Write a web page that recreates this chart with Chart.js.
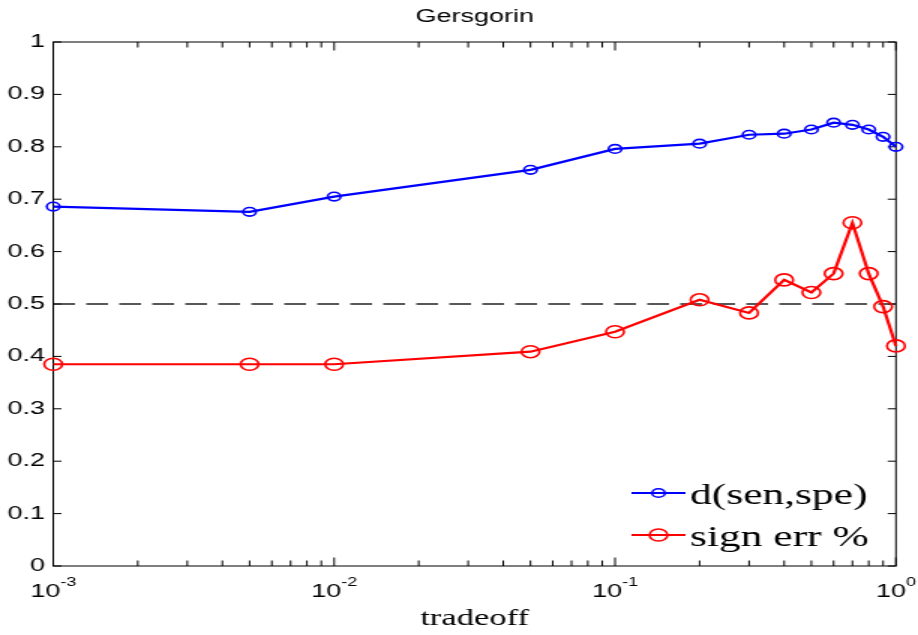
<!DOCTYPE html>
<html lang="en">
<head>
    <meta charset="UTF-8">
    <title>Gersgorin</title>
    <script src="https://cdn.jsdelivr.net/npm/chart.js"></script>
    <style>
        body {
            margin: 0;
            background-color: #fff;
        }
        /* the original figure is stretched sideways, so the canvas is drawn narrow and widened */
        #gersChart {
            width: 918px;
            height: 635px;
        }
    </style>
</head>
<body>
    <canvas id="gersChart" width="612" height="635" style="width:918px;height:635px"></canvas>

    <script>
        // Data
        const tradeoff = [0.001, 0.005, 0.01, 0.05, 0.1, 0.2, 0.3, 0.4, 0.5, 0.6, 0.7, 0.8, 0.9, 1];
        const dSenSpe = [0.686, 0.676, 0.705, 0.756, 0.796, 0.806, 0.823, 0.825, 0.833, 0.846, 0.842, 0.833, 0.819, 0.800];
        const signErr = [0.385, 0.385, 0.385, 0.409, 0.447, 0.508, 0.483, 0.546, 0.522, 0.558, 0.655, 0.558, 0.495, 0.420];
        const threshold = 0.5;
        const xDecades = [0.001, 0.01, 0.1, 1];
        const seriesLabels = ['d(sen,spe)', 'sign err %'];

        const sans = '"Liberation Sans", Arial, sans-serif';
        const serif = '"Liberation Serif", "Times New Roman", serif';

        const toPoints = vals => tradeoff.map((t, i) => ({ x: t, y: vals[i] }));

        // MATLAB-like box, inward ticks, x labels with exponents, xlabel and legend
        const matlabAxes = {
            id: 'matlabAxes',
            beforeDatasetsDraw(chart) {
                const { ctx, chartArea: a, scales: { x, y } } = chart;
                ctx.save();
                ctx.strokeStyle = '#000';
                ctx.lineWidth = 1;
                ctx.strokeRect(a.left, a.top, a.right - a.left, a.bottom - a.top);
                ctx.beginPath();
                y.ticks.forEach(t => {
                    const py = y.getPixelForValue(t.value);
                    ctx.moveTo(a.left, py); ctx.lineTo(a.left + 5.5, py);
                    ctx.moveTo(a.right, py); ctx.lineTo(a.right - 5.5, py);
                });
                xDecades.forEach((d, k) => {
                    const px = x.getPixelForValue(d);
                    ctx.moveTo(px, a.bottom); ctx.lineTo(px, a.bottom - 8.5);
                    ctx.moveTo(px, a.top); ctx.lineTo(px, a.top + 8.5);
                    if (k === xDecades.length - 1) return;
                    for (let m = 2; m <= 9; m++) {
                        const mx = x.getPixelForValue(d * m);
                        ctx.moveTo(mx, a.bottom); ctx.lineTo(mx, a.bottom - 5.5);
                        ctx.moveTo(mx, a.top); ctx.lineTo(mx, a.top + 5.5);
                    }
                });
                ctx.stroke();
                ctx.restore();
            },
            afterDraw(chart) {
                const { ctx, chartArea: a, scales: { x } } = chart;
                ctx.save();
                ctx.fillStyle = '#000';
                ctx.textBaseline = 'alphabetic';

                // x tick labels: 10 with superscript exponent
                xDecades.forEach(d => {
                    const px = x.getPixelForValue(d);
                    const exp = String(Math.round(Math.log10(d)));
                    ctx.font = '18px ' + sans;
                    const wBase = ctx.measureText('10').width;
                    ctx.font = '12px ' + sans;
                    const wExp = ctx.measureText(exp).width;
                    const left = px - (wBase + wExp) / 2;
                    ctx.textAlign = 'left';
                    ctx.font = '18px ' + sans;
                    ctx.fillText('10', left, 597);
                    ctx.font = '12px ' + sans;
                    ctx.fillText(exp, left + wBase, 586);
                });

                // x axis label
                ctx.font = '23px ' + serif;
                ctx.textAlign = 'center';
                ctx.fillText('tradeoff', (a.left + a.right) / 2, 625);

                // legend
                const rows = [493, 535];
                chart.data.datasets.slice(0, 2).forEach((ds, i) => {
                    const ly = rows[i];
                    ctx.strokeStyle = ds.borderColor;
                    ctx.lineWidth = ds.borderWidth;
                    ctx.beginPath();
                    ctx.moveTo(421, ly); ctx.lineTo(457, ly);
                    ctx.stroke();
                    ctx.lineWidth = ds.pointBorderWidth;
                    ctx.beginPath();
                    ctx.arc(439, ly, ds.pointRadius, 0, Math.PI * 2);
                    ctx.stroke();
                    ctx.font = '29px ' + serif;
                    ctx.textAlign = 'left';
                    ctx.fillText(ds.label, 460, ly + 11);
                });
                ctx.restore();
            }
        };

        new Chart(document.getElementById('gersChart'), {
            type: 'line',
            data: {
                datasets: [{
                    label: seriesLabels[0],
                    data: toPoints(dSenSpe),
                    borderColor: '#0000ff',
                    borderWidth: 2.2,
                    pointRadius: 4.3,
                    pointBorderWidth: 1.6,
                    pointBackgroundColor: 'rgba(0,0,0,0)',
                    pointBorderColor: '#0000ff',
                    tension: 0,
                    clip: false
                }, {
                    label: seriesLabels[1],
                    data: toPoints(signErr),
                    borderColor: '#ff0000',
                    borderWidth: 2.2,
                    pointRadius: 6,
                    pointBorderWidth: 1.6,
                    pointBackgroundColor: 'rgba(0,0,0,0)',
                    pointBorderColor: '#ff0000',
                    tension: 0,
                    clip: false
                }, {
                    label: 'threshold',
                    data: [{ x: xDecades[0], y: threshold }, { x: xDecades[xDecades.length - 1], y: threshold }],
                    borderColor: '#222',
                    borderWidth: 1.3,
                    borderDash: [14.5, 7.5],
                    pointRadius: 0,
                    tension: 0
                }]
            },
            options: {
                responsive: false,
                animation: false,
                devicePixelRatio: 1,
                layout: {
                    padding: { left: 0, right: 14.7, top: 0, bottom: 0 }
                },
                scales: {
                    x: {
                        type: 'logarithmic',
                        min: 0.001,
                        max: 1,
                        grid: { display: false, drawTicks: false },
                        border: { display: false },
                        ticks: { display: false },
                        afterFit: scale => { scale.height = 69; }
                    },
                    y: {
                        min: 0,
                        max: 1,
                        grid: { display: false, drawTicks: false },
                        border: { display: false },
                        ticks: {
                            stepSize: 0.1,
                            padding: 5.5,
                            color: '#000',
                            font: { family: sans, size: 18 },
                            callback: v => String(Math.round(v * 10) / 10)
                        },
                        afterFit: scale => { scale.width = 35.5; }
                    }
                },
                plugins: {
                    legend: { display: false },
                    tooltip: { enabled: false },
                    title: {
                        display: true,
                        fullSize: false,
                        text: 'Gersgorin',
                        color: '#000',
                        font: { family: sans, size: 18, weight: 'normal' },
                        padding: { top: 6.4, bottom: 14 }
                    }
                }
            },
            plugins: [matlabAxes]
        });
    </script>
</body>
</html>
